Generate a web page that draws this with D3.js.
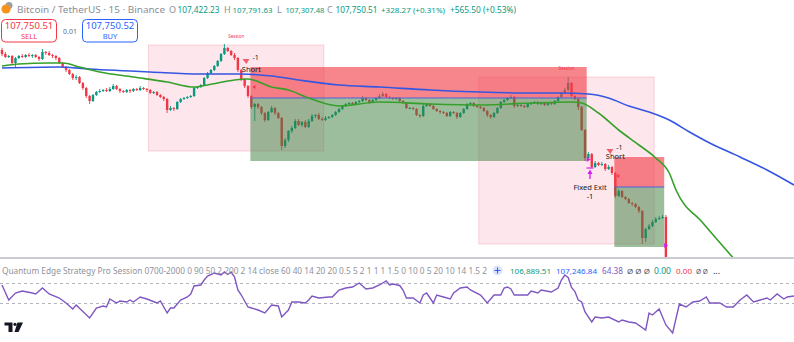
<!DOCTYPE html>
<html><head><meta charset="utf-8">
<script src="https://cdn.jsdelivr.net/npm/d3@7"></script>
<style>html,body{margin:0;padding:0;background:#fff;overflow:hidden}svg{display:block}</style>
</head><body>
<svg id="c" width="794" height="342"></svg>
<script>
// ---------- DATA ----------
const firstOpen = 108500;
const closes = [108460,108430,108440,108370,108420,108440,108430,108450,108440,108450,
108430,108410,108480,108470,108450,108440,108420,108370,108330,108300,
108260,108220,108230,108170,108120,108040,107990,108050,108080,108090,
108100,108090,108110,108140,108110,108090,108080,108100,108090,108110,
108100,108120,108110,108100,108070,108080,108050,108030,108010,107900,
107920,107910,107980,108010,108020,108030,108040,108120,108130,108150,
108220,108270,108300,108340,108390,108460,108520,108490,108450,108420,
108300,108210,108140,108040,107930,107960,107930,107870,107800,107880,
107920,107870,107820,107540,107600,107690,107720,107790,107750,107780,
107730,107790,107840,107850,107810,107800,107820,107830,107850,107880,
107910,107940,107960,107970,107960,107980,107990,108020,108000,107980,
108000,108020,108040,108060,108030,108020,108010,108020,107990,107970,
107920,107920,107910,107850,107840,107940,107960,107940,107910,107890,
107880,107870,107840,107880,107870,107830,107870,107910,107960,107970,
107940,107930,107920,107890,107850,107830,107870,107920,107980,108000,
108020,108030,107940,107950,107940,107930,107960,107970,107980,107960,
107970,107950,107970,107960,107990,108030,108070,108100,108170,108040,
108010,107930,107700,107420,107460,107330,107370,107350,107360,107310,
107330,107270,107040,107090,107030,107010,106970,106960,106930,106890,
106620,106710,106740,106780,106810,106820,106830,105800];
const highs = [108520,108480,108450,108450,108430,108450,108460,108460,108470,108460,
108460,108440,108510,108490,108490,108460,108450,108430,108380,108340,
108310,108270,108250,108240,108180,108130,108050,108060,108090,108110,
108110,108120,108130,108160,108150,108120,108100,108110,108110,108120,
108120,108140,108130,108120,108110,108090,108090,108060,108040,108020,
107940,107930,107990,108020,108030,108040,108050,108130,108140,108160,
108230,108280,108310,108350,108400,108470,108560,108530,108500,108470,
108430,108310,108220,108150,108050,107970,107970,107940,107880,107890,
107940,107930,107880,107830,107620,107700,107740,107810,107810,107790,
107800,107810,107860,107860,107870,107830,107840,107840,107860,107890,
107920,107950,107970,107980,107980,107990,108000,108040,108030,108010,
108010,108030,108060,108080,108070,108040,108030,108030,108030,108000,
107980,107930,107930,107920,107860,107960,107970,107970,107950,107920,
107900,107890,107880,107890,107890,107880,107880,107920,107970,107980,
107980,107950,107940,107930,107900,107860,107880,107930,107990,108010,
108030,108050,108040,107960,107960,107950,107970,107980,107990,107990,
107980,107980,107980,107980,108000,108040,108080,108120,108230,108180,
108050,108020,107940,107710,107480,107470,107390,107380,107380,107370,
107350,107340,107280,107110,107100,107040,107020,106980,106970,106940,
106900,106720,106760,106800,106830,106840,106850,106850];
const lows = [108440,108420,108420,108350,108330,108410,108420,108420,108430,108420,
108420,108390,108400,108450,108440,108420,108400,108360,108320,108280,
108250,108200,108200,108160,108100,108020,107960,107980,108040,108070,
108080,108080,108080,108100,108100,108070,108070,108070,108070,108080,
108090,108090,108100,108080,108060,108060,108040,108020,107990,107870,
107890,107890,107900,107970,108000,108010,108020,108030,108110,108120,
108140,108210,108260,108290,108330,108380,108450,108480,108440,108400,
108280,108190,108120,108020,107910,107790,107910,107850,107780,107790,
107870,107850,107810,107500,107520,107580,107670,107710,107740,107730,
107720,107720,107780,107820,107800,107790,107790,107810,107820,107840,
107870,107900,107930,107950,107950,107950,107970,107980,107990,107960,
107970,107990,108010,108030,108020,108010,108000,108000,107980,107960,
107910,107910,107900,107840,107820,107830,107930,107930,107900,107880,
107860,107860,107830,107830,107860,107810,107820,107860,107900,107950,
107930,107920,107910,107880,107830,107810,107820,107860,107910,107970,
107990,108010,107920,107930,107930,107920,107920,107950,107960,107950,
107950,107940,107940,107950,107950,107980,108020,108060,108090,108030,
108000,107900,107690,107390,107400,107320,107320,107340,107340,107290,
107300,107250,107020,107030,107020,107000,106960,106940,106920,106870,
106560,106580,106700,106730,106770,106800,106810,105750];

const blueBars = [0,17,26,44,59,71,80,88,100,112,127,142,157,166,174,180,186,192,198,204,210,219,227,235];
const blueMA   = [108320,108330,108310,108280,108260,108260,108240,108200,108150,108130,108100,108080,108070,108070,108060,108020,107940,107880,107800,107680,107570,107430,107300,107150];
const greenBars = [0,5,14,18,23,29,39,49,57,61,69,73,80,85,91,100,112,127,142,157,169,172,177,183,189,194,198,200,208,217];
const greenMA   = [108340,108360,108370,108370,108330,108280,108230,108180,108130,108150,108200,108210,108130,108100,108020,107940,107980,107960,107950,107970,107980,107970,107870,107700,107550,107420,107270,107100,106770,106420];

const rsiBars = [0,2,4,6,9,10,12,14,17,19,21,22,26,28,30,31,32,34,35,37,38,39,41,43,46,47,49,50,51,53,55,56,57,59,60,61,63,65,66,67,68,69,70,71,73,74,76,78,80,82,83,85,86,88,90,91,92,94,97,98,100,102,104,106,108,110,112,114,115,116,118,119,120,122,124,125,126,128,129,131,133,134,136,138,139,142,144,146,148,149,150,151,152,156,157,159,160,163,165,166,167,168,169,170,171,172,173,175,176,178,180,183,184,186,188,191,192,193,195,197,199,201,203,205,207,209,210,213,215,217,219,221,223,225,227,228,230,232,233,235];
const rsiVals = [58.5,43.5,50.5,52.5,50.5,49.5,55.5,49.5,45.5,40.5,34.5,38.5,25.5,35.5,37.5,36.5,44.5,40.5,42.5,41.5,43.5,41.5,46.5,44.5,40.5,42.5,30.5,35.5,35.5,43.5,46.5,49.5,57.5,58.5,63.5,67.5,70.5,68.5,71.5,69,71.5,66.5,53.5,48.5,36.5,35.5,33.5,30.5,38.5,37.5,26.5,33.5,41.5,41.5,40.5,43.5,47.5,45.5,46.5,46.5,53.5,55.5,56.5,60.5,54.5,55.5,58.5,62.5,58.5,59.5,58,53.5,45.5,45.5,40.5,48.5,50.5,40.5,48.5,46.5,44.5,50.5,55.5,56.5,53.5,48.5,40.5,48.5,48.5,55.5,56.5,54.5,48.5,48.5,52.5,50.5,53.5,51.5,55.5,63.5,68.5,66,56,52,43.5,41.5,31.5,21.5,26.5,25.5,26.5,21.5,23.5,21.5,20.5,13.5,30.5,28.5,34.5,18.5,10.5,39.5,36.5,41.5,42.5,46.5,40.5,40.5,36.5,36.5,43.5,48.5,41.5,43.5,45.5,43.5,49.5,44.5,46.5,47.5];
const rsiLevels = [60, 40];

const sessionStart = [44, 142];
const sessionEnd   = [95, 193];
const sessionHigh  = [108550, 108230];
const sessionLow   = [107490, 106560];

const tradeEntryBar = [74, 182];
const tradeExitBar  = [173, 196];
const tradeEntry    = [108020, 107130];
const tradeStop     = [108330, 107430];
const tradeTarget   = [107390, 106530];

const headerName = "Bitcoin / TetherUS · 15 · Binance";
const ohlcLabels = ["O","H","L","C"];
const ohlcValues = ["107,422.23","107,791.63","107,307.48","107,750.51"];
const changeTexts = ["+328.27 (+0.31%)","+565.50 (+0.53%)"];
const sellPrice = "107,750.51", buyPrice = "107,750.52", spread = "0.01";
const legendParams = "Quantum Edge Strategy Pro Session 0700-2000 0 90 50 2 200 2 14 close 60 40 14 20 20 0.5 5 2 1 1 1 1.5 0 10 0 5 20 10 14 1.5 2";
const legendValues = ["106,889.51","107,246.84","64.38","Ø Ø Ø","0.00","0.00","Ø Ø","..."];

// ---------- SCALES ----------
const svg = d3.select("#c");
const UP = "#089981", DN = "#f23645";
const FONT = "'Noto Sans', 'DejaVu Sans', sans-serif";
const x = d3.scaleLinear().domain([0, 235]).range([2, 2 + 235 * 3.37]);
const bw = 3.37;
const y = d3.scaleLinear().domain([105000, 109000]).range([400, 0]);
const ry = d3.scaleLinear().domain([0, 100]).range([343.5, 243.5]);

// fit a text to a target width: shrink font so its natural width fits, then stretch exactly
function fitText(sel, target, maxFs){
  sel.attr("font-size", maxFs);
  const len = sel.node().getComputedTextLength();
  const fs = Math.min(maxFs, maxFs * target / len * 0.99);
  sel.attr("font-size", fs).attr("textLength", target).attr("lengthAdjust","spacingAndGlyphs");
  return sel;
}

const defs = svg.append("defs");
defs.append("clipPath").attr("id","mainClip").append("rect").attr("x",0).attr("y",0).attr("width",794).attr("height",257);
defs.append("clipPath").attr("id","rsiClip").append("rect").attr("x",0).attr("y",259).attr("width",794).attr("height",83);

const main = svg.append("g").attr("clip-path","url(#mainClip)");

// sessions
sessionStart.forEach((s,k)=>{
  const x0 = x(s)-bw/2, x1 = x(sessionEnd[k])+bw/2;
  main.append("rect").attr("x",x0).attr("y",y(sessionHigh[k])).attr("width",x1-x0)
    .attr("height",y(sessionLow[k])-y(sessionHigh[k]))
    .attr("fill","rgba(250,175,195,0.30)").attr("stroke","rgba(240,150,170,0.55)").attr("stroke-width",0.7);
  main.append("text").attr("x",(x0+x1)/2).attr("y",y(sessionHigh[k])-7).attr("text-anchor","middle")
    .attr("font-size",4.5).attr("font-family",FONT).attr("fill",DN).text("Session");
});

// candles
const opens = closes.map((c,i)=> i===0 ? firstOpen : closes[i-1]);
const cg = main.append("g");
closes.forEach((c,i)=>{
  const o = opens[i], col = c >= o ? UP : DN;
  cg.append("line").attr("x1",x(i)).attr("x2",x(i)).attr("y1",y(highs[i])).attr("y2",y(lows[i]))
    .attr("stroke",col).attr("stroke-width",0.9);
  const top = y(Math.max(o,c)), h = Math.max(1, Math.abs(y(o)-y(c)));
  cg.append("rect").attr("x",x(i)-1.2).attr("y",top).attr("width",2.4).attr("height",h).attr("fill",col);
});

// trade boxes
tradeEntryBar.forEach((b,k)=>{
  const x0 = x(b)-1, x1 = x(tradeExitBar[k])+bw/2;
  main.append("rect").attr("x",x0).attr("y",y(tradeStop[k])).attr("width",x1-x0)
    .attr("height",y(tradeEntry[k])-y(tradeStop[k])).attr("fill","rgba(242,60,70,0.62)");
  main.append("rect").attr("x",x0).attr("y",y(tradeEntry[k])).attr("width",x1-x0)
    .attr("height",y(tradeTarget[k])-y(tradeEntry[k])).attr("fill","rgba(60,125,60,0.50)");
  main.append("line").attr("x1",x0).attr("x2",x1).attr("y1",y(tradeEntry[k])).attr("y2",y(tradeEntry[k]))
    .attr("stroke","#4a62d8").attr("stroke-width",1);
});

// moving averages
const lineGen = d3.line().x(d=>x(d[0])).y(d=>y(d[1])).curve(d3.curveMonotoneX);
main.append("path").attr("d",lineGen(d3.zip(blueBars,blueMA))).attr("fill","none").attr("stroke","#3456e0").attr("stroke-width",1.6);
main.append("path").attr("d",lineGen(d3.zip(greenBars,greenMA))).attr("fill","none").attr("stroke","#36a02a").attr("stroke-width",1.6);

// signal markers
const ann = svg.append("g").attr("font-family",FONT).attr("fill","#131722");
tradeEntryBar.forEach((b,k)=>{
  const cx = x(b), sy = y(tradeStop[k]);
  ann.append("path").attr("d",`M${cx-9},${sy-8} L${cx-2},${sy-8} L${cx-5},${sy-3} Z`).attr("fill","#f0606a");
  ann.append("text").attr("x",cx+1).attr("y",sy-7).attr("font-size",7).text("-1");
  ann.append("text").attr("x",cx).attr("y",sy+ (k===0?5:2)).attr("text-anchor","middle").attr("font-size",7.5).text("Short");
  ann.append("path").attr("d",`M${cx+1},${y(tradeEntry[k])-11} l3,-2 l0,4 Z`).attr("fill",DN);
});
// exits
const MAG = "#d81bf0";
tradeExitBar.forEach((b,k)=>{
  const ex = x(b)+bw/2, ey = y(tradeTarget[k]);
  ann.append("path").attr("d",`M${ex},${ey-4} L${ex+4},${ey-1.5} L${ex},${ey+1} Z`).attr("fill",MAG);
});
{
  const ex = x(tradeExitBar[0])+5, ey = y(tradeTarget[0]);
  ann.append("line").attr("x1",ex-3.5).attr("x2",ex+3.5).attr("y1",ey+7).attr("y2",ey+7).attr("stroke",MAG).attr("stroke-width",1.2);
  ann.append("path").attr("d",`M${ex-2.5},${ey+13} L${ex+2.5},${ey+13} L${ex},${ey+8.5} Z`).attr("fill",MAG);
  ann.append("line").attr("x1",ex).attr("x2",ex).attr("y1",ey+12).attr("y2",ey+18).attr("stroke",MAG).attr("stroke-width",1.3);
  ann.append("text").attr("x",ex).attr("y",ey+29).attr("text-anchor","middle").attr("font-size",7.5).text("Fixed Exit");
  ann.append("text").attr("x",ex).attr("y",ey+38).attr("text-anchor","middle").attr("font-size",7.5).text("-1");
}

// separator
svg.append("line").attr("x1",0).attr("x2",794).attr("y1",258).attr("y2",258).attr("stroke","#b8bbc2").attr("stroke-width",1.5);

// RSI pane
const rg = svg.append("g").attr("clip-path","url(#rsiClip)");
rsiLevels.forEach(l=>{
  rg.append("line").attr("x1",0).attr("x2",794).attr("y1",ry(l)).attr("y2",ry(l))
    .attr("stroke","#b2b5be").attr("stroke-dasharray","3,3").attr("stroke-width",1);
});
const rline = d3.line().x(d=>x(d[0])).y(d=>ry(d[1]));
rg.append("path").attr("d",rline(d3.zip(rsiBars,rsiVals))).attr("fill","none").attr("stroke","#7e57c2").attr("stroke-width",1.4);

// legend
const lg = svg.append("g").attr("font-family",FONT);
fitText(lg.append("text").attr("x",2).attr("y",274).attr("fill","#8f929b").text(legendParams), 485, 9);
lg.append("circle").attr("cx",497.5).attr("cy",270.5).attr("r",5).attr("fill","#dde5fb");
lg.append("path").attr("d","M497.5,267.5 v6 M494.5,270.5 h6").attr("stroke","#2962ff").attr("stroke-width",1.1);
const lvX = [510,556,602,627,654,676,696,713];
const lvW = [41,41,21,23,17,16,12,7];
const lvC = ["#089981","#2962ff","#7e57c2","#5d606b","#089981","#f23645","#5d606b","#131722"];
legendValues.forEach((t,i)=>{
  fitText(lg.append("text").attr("x",lvX[i]).attr("y",274).attr("fill",lvC[i]).text(t), lvW[i], 9);
});

// header
const hg = svg.append("g").attr("font-family",FONT);
hg.append("circle").attr("cx",9).attr("cy",5.5).attr("r",3.5).attr("fill","#9aa0a6");
hg.append("circle").attr("cx",6).attr("cy",9).attr("r",4.6).attr("fill","#f7931a");
fitText(hg.append("text").attr("x",17).attr("y",13).attr("fill","#8c8f99").text(headerName), 148, 11);
const ohX = [169,224,277,327], ohW = [51,49,48,51];
ohlcLabels.forEach((l,i)=>{
  hg.append("text").attr("x",ohX[i]).attr("y",13).attr("font-size",9).attr("fill","#8c8f99").text(l);
  fitText(hg.append("text").attr("x",ohX[i]+8.5).attr("y",13).attr("fill","#089981").text(ohlcValues[i]), ohW[i]-9, 11);
});
const chX = [381,450], chW = [64,66];
changeTexts.forEach((c,i)=>{
  fitText(hg.append("text").attr("x",chX[i]).attr("y",13).attr("fill","#089981").text(c), chW[i], 11);
});

// sell / buy
const bg = svg.append("g").attr("font-family",FONT);
bg.append("rect").attr("x",1.5).attr("y",19.5).attr("width",55).attr("height",22.5).attr("rx",4).attr("fill","#fff").attr("stroke",DN).attr("stroke-width",1);
bg.append("text").attr("x",29).attr("y",29).attr("text-anchor","middle").attr("font-size",9.5).attr("fill",DN).text(sellPrice);
bg.append("text").attr("x",29).attr("y",38.5).attr("text-anchor","middle").attr("font-size",7.5).attr("fill",DN).text("SELL");
bg.append("text").attr("x",70).attr("y",34).attr("text-anchor","middle").attr("font-size",7).attr("fill","#6a6d78").text(spread);
bg.append("rect").attr("x",82.5).attr("y",19.5).attr("width",55).attr("height",22.5).attr("rx",4).attr("fill","#fff").attr("stroke","#2962ff").attr("stroke-width",1);
bg.append("text").attr("x",110).attr("y",29).attr("text-anchor","middle").attr("font-size",9.5).attr("fill","#2962ff").text(buyPrice);
bg.append("text").attr("x",110).attr("y",38.5).attr("text-anchor","middle").attr("font-size",7.5).attr("fill","#2962ff").text("BUY");

// TV logo
const tv = svg.append("g").attr("fill","#131722");
tv.append("path").attr("d","M4.5,322.5 H12.5 V332 H8.5 V325.5 H4.5 Z");
tv.append("circle").attr("cx",15).attr("cy",324.3).attr("r",1.6);
tv.append("path").attr("d","M17.5,322.5 H23 L18.5,332 H14.5 Z");
</script>
</body></html>
